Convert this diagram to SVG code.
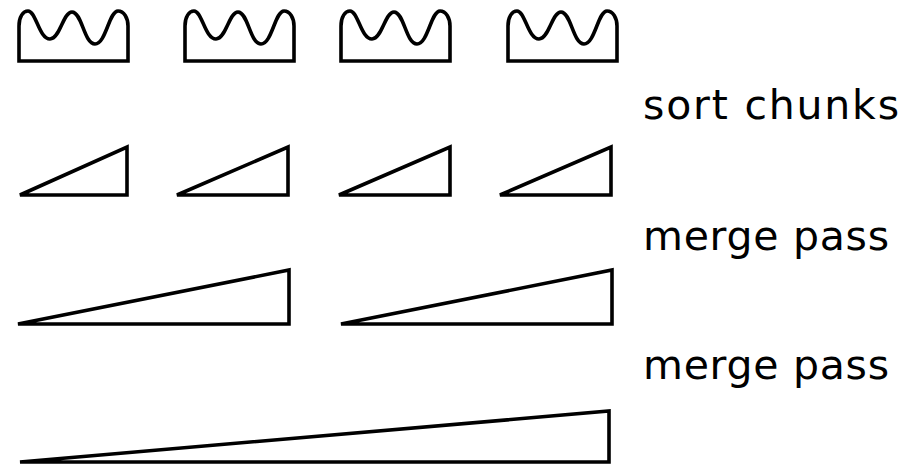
<svg xmlns="http://www.w3.org/2000/svg" width="906" height="467" viewBox="0 0 906 467">
  <defs>
    <style>
      .shape { fill: none; stroke: #000; stroke-width: 3.6; stroke-linejoin: miter; }
      .label { font-family: "DejaVu Sans", "Liberation Sans", sans-serif; font-size: 41px; fill: #000; }
    </style>
    <!-- unsorted chunk: wavy top edge, flat bottom -->
    <path id="chunk" d="M 0,61 V 26 C 0,17 4,11 9,11 C 17,11 20,39 31,39 C 41,39 44,12 53,12 C 63,12 65,44 76,44 C 87,44 90,11 99,11 C 105,11 109,18 109,26 V 61 Z"/>
  </defs>

  <rect width="906" height="467" fill="#fff"/>

  <!-- unsorted input chunks -->
  <g id="unsorted">
    <use href="#chunk" class="shape" x="19" y="0"/>
    <use href="#chunk" class="shape" x="185" y="0"/>
    <use href="#chunk" class="shape" x="341" y="0"/>
    <use href="#chunk" class="shape" x="508" y="0"/>
  </g>

  <text id="label-sort" class="label" x="643" y="119" textLength="256" lengthAdjust="spacing">sort chunks</text>

  <!-- sorted runs after the chunk sort -->
  <g id="runs-1">
    <polygon class="shape" points="20,195 127,147 127,195"/>
    <polygon class="shape" points="177,195 288,147 288,195"/>
    <polygon class="shape" points="339,195 450,147 450,195"/>
    <polygon class="shape" points="500,195 611,147 611,195"/>
  </g>

  <text id="label-merge-1" class="label" x="643" y="250" textLength="246" lengthAdjust="spacing">merge pass</text>

  <!-- runs after the first merge pass -->
  <g id="runs-2">
    <polygon class="shape" points="18,324 289,270 289,324"/>
    <polygon class="shape" points="341,324 612,270 612,324"/>
  </g>

  <text id="label-merge-2" class="label" x="643" y="379" textLength="246" lengthAdjust="spacing">merge pass</text>

  <!-- fully merged output -->
  <g id="runs-3">
    <polygon class="shape" points="20,462 609,411 609,462"/>
  </g>
</svg>
